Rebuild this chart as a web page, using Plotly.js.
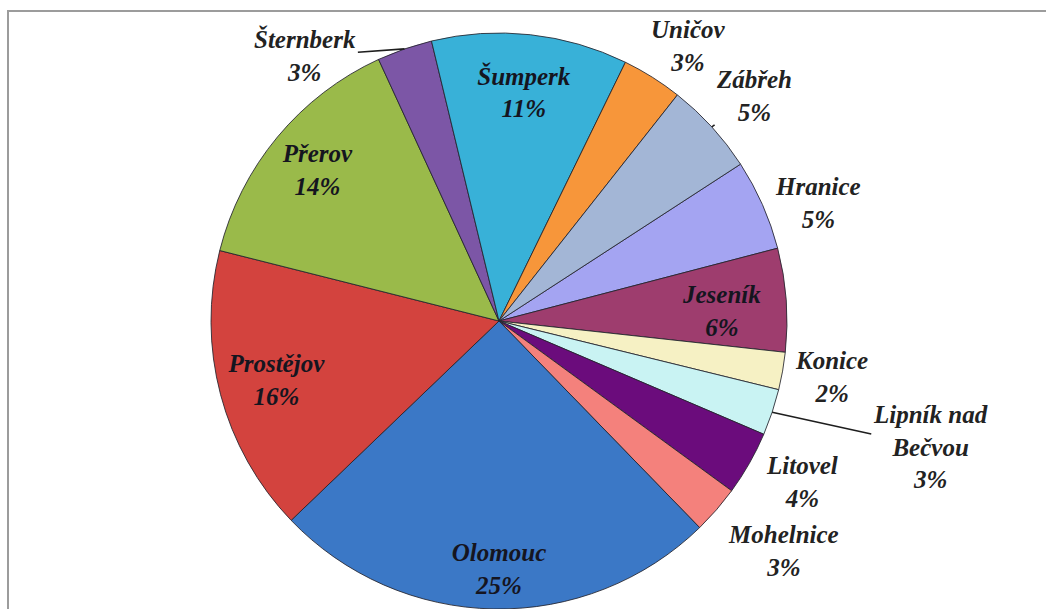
<!DOCTYPE html>
<html>
<head>
<meta charset="utf-8">
<script src="https://cdn.plot.ly/plotly-3.0.1.min.js"></script>
<style>
  html, body { margin: 0; padding: 0; background: #ffffff; overflow: hidden; }
  #frame { position: absolute; left: 7px; top: 10px; width: 1100px; height: 700px;
           border: 2px solid #9c9c9c; box-sizing: border-box; background: #ffffff; z-index: 0; }
  #chart { position: absolute; left: 0; top: 0; width: 1046px; height: 609px; z-index: 1; }
</style>
</head>
<body>
<div id="frame"></div>
<div id="chart"></div>
<script>
// ---- Data (clockwise order, starting with Hranice) ----
const towns = ["Hranice", "Jeseník", "Konice", "Lipník nad<br>Bečvou", "Litovel", "Mohelnice",
               "Olomouc", "Prostějov", "Přerov", "Šternberk", "Šumperk", "Uničov", "Zábřeh"];
const shares = [5.1, 5.8, 2.1, 2.6, 3.6, 2.7, 25.1, 16.1, 14.2, 3.1, 11.0, 3.4, 5.2];

// ---- Styling ----
const sliceColors = ["#a4a4f2", "#9e3d6e", "#f6f1c4", "#c9f3f3", "#6b0c7c", "#f4817c",
                     "#3b78c6", "#d3433e", "#9aba4a", "#7c56a6", "#38b1d8", "#f7963a", "#a3b6d6"];
// labels carried by a transparent ring trace: hole of that ring (0 = placed as annotation)
const labelRingHole = [0, 0, 0, 0, 0, 0, 0.74, 0.6, 0.64, 0, 0.6, 0, 0];
// annotation labels: distance from centre (in radii), angular shift (deg), leader line
const annDist  = [1.18, 0.775, 1.17, 1.56, 1.19, 1.27, 0, 0, 0, 1.14, 0, 1.16, 1.18];
const annShift = [3.5, 1.6, -0.5, -2.2, -1.7, -2, 0, 0, 0, -17, 0, 2.5, 1];
const annLeader = [false, false, false, true, false, false, false, false, false, true, false, false, true];

const W = 1046, H = 609;
const M = { l: 0, r: 48, t: 33, b: 0 };
const startAngle = 57;
const fontBase = { family: "Liberation Serif", size: 25, style: "italic", weight: "bold" };

// full pie with slice borders
const pieTrace = {
  type: "pie",
  labels: towns,
  values: shares,
  sort: false,
  direction: "clockwise",
  rotation: startAngle,
  marker: { colors: sliceColors, line: { color: "rgba(35,35,45,0.85)", width: 1 } },
  textinfo: "none",
  hoverinfo: "skip",
  showlegend: false
};

// transparent rings carrying the big inside labels (pushes them toward the rim, as in the original)
const holes = [...new Set(labelRingHole.filter(h => h > 0))];
const ringTraces = holes.map(h => ({
  type: "pie",
  labels: towns,
  values: shares,
  sort: false,
  direction: "clockwise",
  rotation: startAngle,
  hole: h,
  marker: { colors: sliceColors.map(() => "rgba(0,0,0,0)"), line: { width: 0 } },
  texttemplate: "%{label}<br>%{percent:.0%}",
  textposition: labelRingHole.map(v => v === h ? "inside" : "none"),
  insidetextorientation: "horizontal",
  insidetextfont: Object.assign({ color: "#15151f" }, fontBase),
  hoverinfo: "skip",
  showlegend: false
}));

// remaining labels as annotations, anchored on each slice's mid-angle rim point
const plotW = W - M.l - M.r, plotH = H - M.t - M.b;
const R = Math.min(plotW, plotH) / 2;
const total = shares.reduce((a, b) => a + b, 0);
const annotations = [];
let cum = 0;
shares.forEach((v, i) => {
  const mid = (startAngle + 360 * (cum + v / 2) / total) * Math.PI / 180;
  cum += v;
  if (annDist[i] === 0) return;
  const lab = mid + annShift[i] * Math.PI / 180;
  const tipX = R * Math.sin(mid), tipY = -R * Math.cos(mid);
  const txtX = annDist[i] * R * Math.sin(lab), txtY = -annDist[i] * R * Math.cos(lab);
  annotations.push({
    xref: "paper", yref: "paper",
    x: 0.5 + tipX / plotW, y: 0.5 - tipY / plotH,
    ax: txtX - tipX, ay: txtY - tipY, axref: "pixel", ayref: "pixel",
    text: towns[i] + "<br>" + Math.round(100 * v / total) + "%",
    showarrow: true, arrowhead: 0, arrowwidth: 1.6,
    arrowcolor: annLeader[i] ? "#1e1e1e" : "rgba(0,0,0,0)",
    font: Object.assign({ color: annDist[i] < 1 ? "#15151f" : "#222222" }, fontBase),
    align: "center"
  });
});

const layout = {
  width: W,
  height: H,
  margin: M,
  paper_bgcolor: "rgba(0,0,0,0)",
  plot_bgcolor: "rgba(0,0,0,0)",
  showlegend: false,
  annotations: annotations
};

Plotly.newPlot("chart", [pieTrace].concat(ringTraces), layout, { displayModeBar: false, staticPlot: true });
</script>
</body>
</html>
